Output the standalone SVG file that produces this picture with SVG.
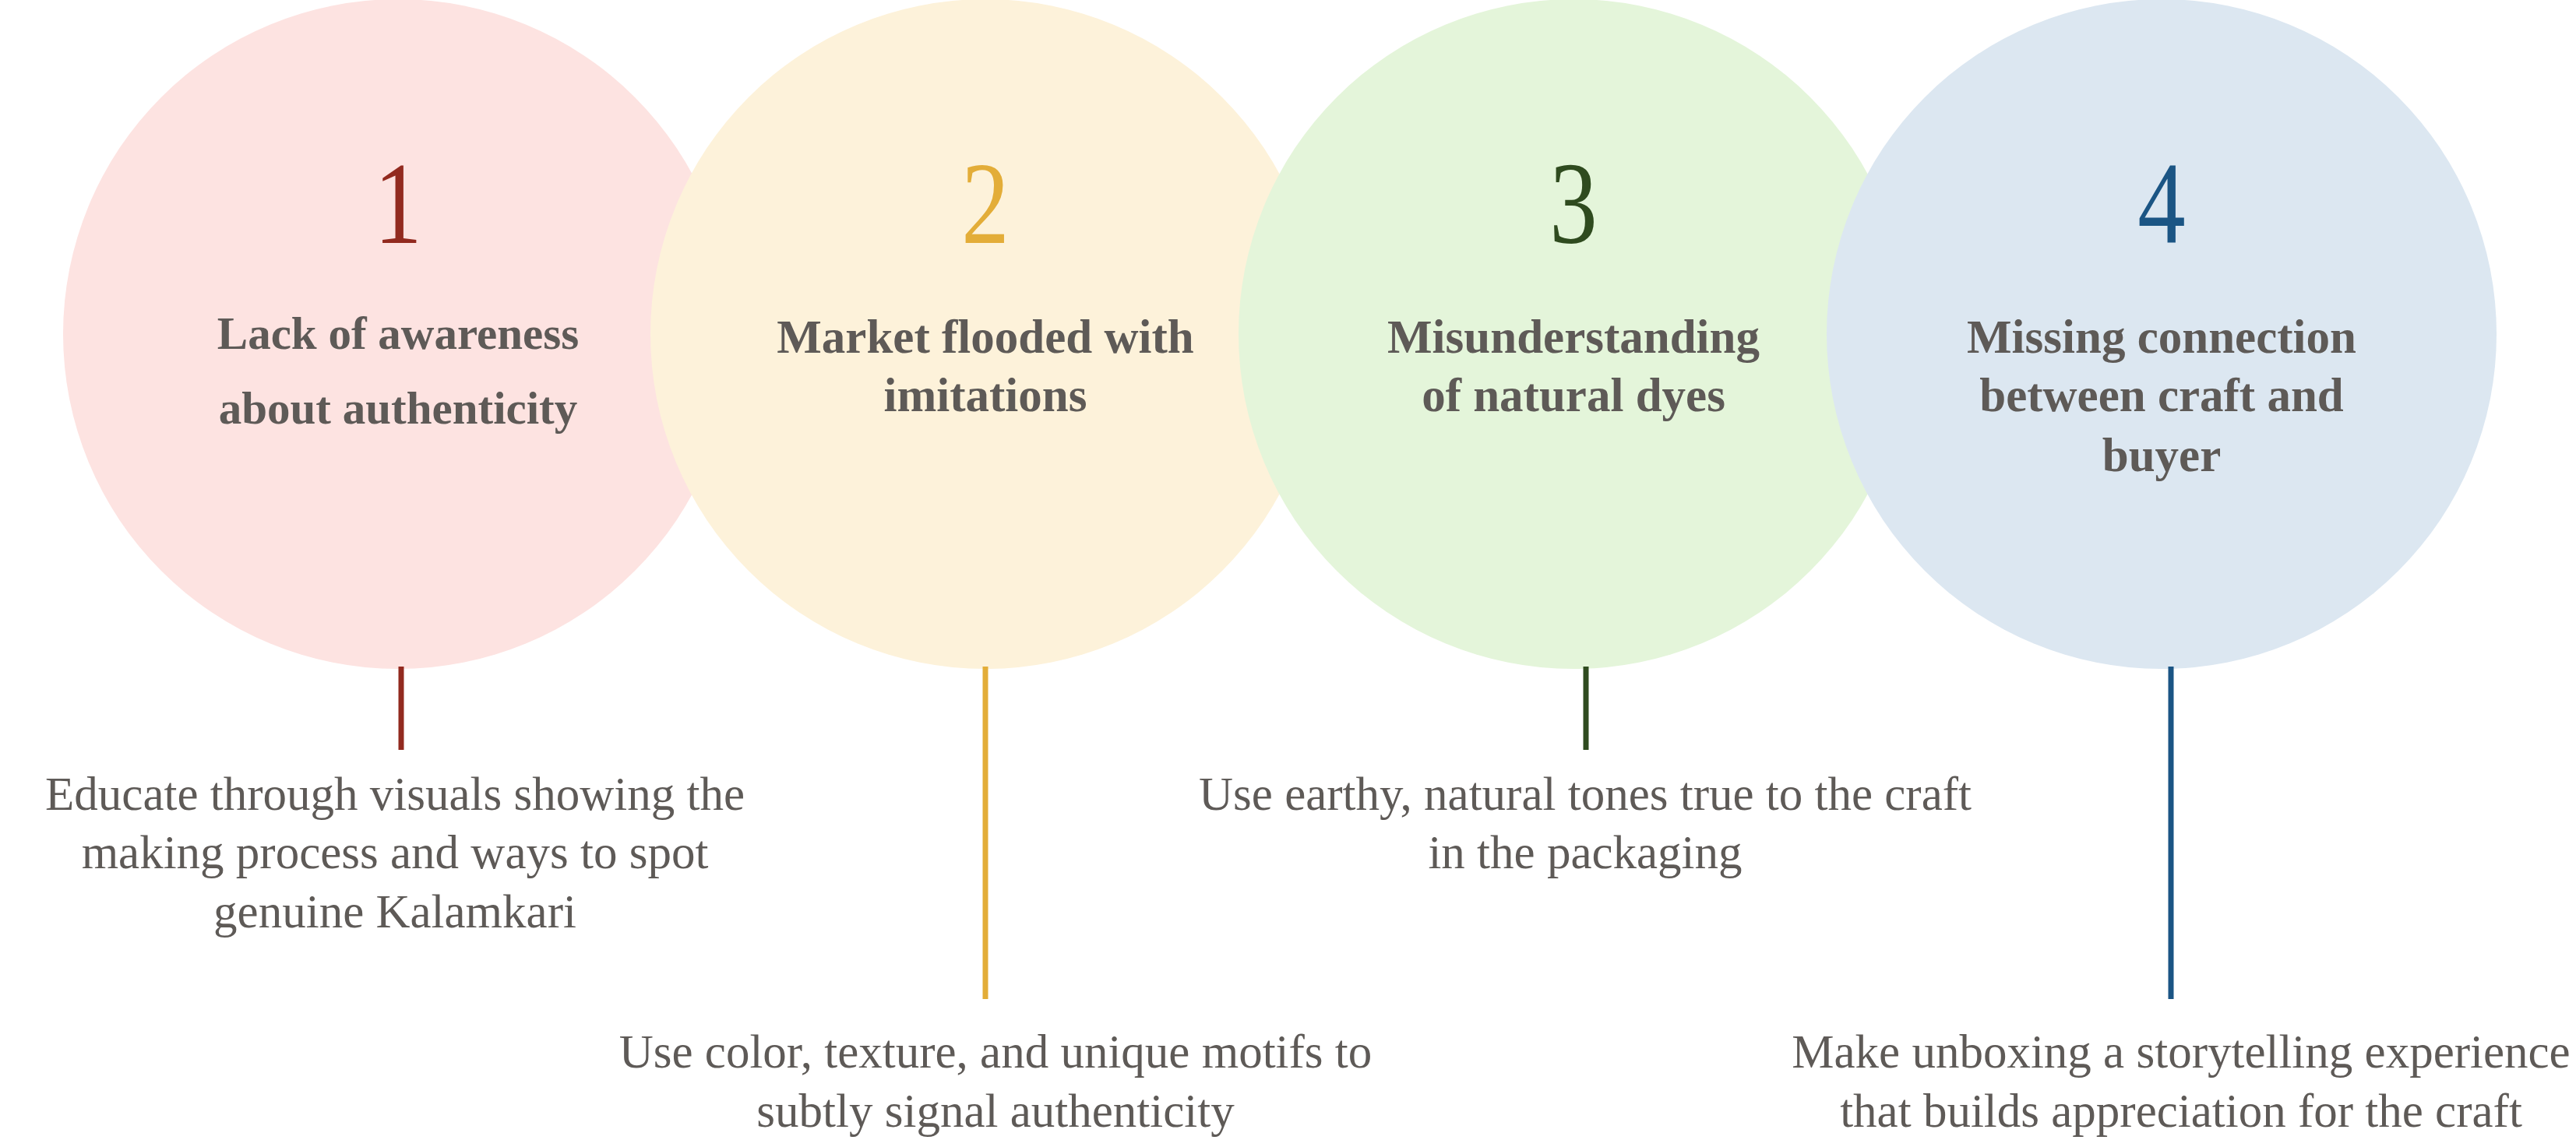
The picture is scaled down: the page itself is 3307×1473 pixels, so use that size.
<svg xmlns="http://www.w3.org/2000/svg" width="3307" height="1473" viewBox="0 0 3307 1473">
<style>
.num{font-family:"Liberation Serif","Times New Roman",serif;font-size:150px;text-anchor:middle}
.title{font-family:"Liberation Serif","Times New Roman",serif;font-size:61px;font-weight:bold;fill:#5E5A57;text-anchor:middle}
.desc{font-family:"Liberation Serif","Times New Roman",serif;font-size:61px;fill:#5E5A57;text-anchor:middle}
.conn{stroke-width:7;fill:none}
</style>
<rect width="3307" height="1473" fill="#FFFFFF"/>
<g id="node1">
<circle cx="511" cy="429" r="430" fill="#FDE3E1"/>
<text class="num" transform="translate(511,312) scale(0.82,1)" x="0" y="0" fill="#922A1F">1</text>
<text class="title" x="511" y="448" style="font-size:59px">Lack of awareness</text>
<text class="title" x="511" y="544" style="font-size:59px">about authenticity</text>
</g>
<g id="node2">
<circle cx="1265" cy="429" r="430" fill="#FDF2DA"/>
<text class="num" transform="translate(1265,312) scale(0.82,1)" x="0" y="0" fill="#E3AD38">2</text>
<text class="title" x="1265" y="453">Market flooded with</text>
<text class="title" x="1265" y="528">imitations</text>
</g>
<g id="node3">
<circle cx="2020" cy="429" r="430" fill="#E4F5DA"/>
<text class="num" transform="translate(2020,312) scale(0.82,1)" x="0" y="0" fill="#2F4B1F">3</text>
<text class="title" x="2020" y="453">Misunderstanding</text>
<text class="title" x="2020" y="528">of natural dyes</text>
</g>
<g id="node4">
<circle cx="2775" cy="429" r="430" fill="#DCE7F1"/>
<text class="num" transform="translate(2775,312) scale(0.82,1)" x="0" y="0" fill="#1B5584">4</text>
<text class="title" x="2775" y="453">Missing connection</text>
<text class="title" x="2775" y="528">between craft and</text>
<text class="title" x="2775" y="605">buyer</text>
</g>
<g id="connectors">
<line class="conn" x1="515" y1="856" x2="515" y2="963" stroke="#922A1F"/>
<line class="conn" x1="1265" y1="856" x2="1265" y2="1283" stroke="#E3AD38"/>
<line class="conn" x1="2036" y1="856" x2="2036" y2="963" stroke="#2F4B1F"/>
<line class="conn" x1="2787" y1="856" x2="2787" y2="1283" stroke="#1B5584"/>
</g>
<g id="desc1">
<text class="desc" x="507" y="1040">Educate through visuals showing the</text>
<text class="desc" x="507" y="1115">making process and ways to spot</text>
<text class="desc" x="507" y="1191">genuine Kalamkari</text>
</g>
<g id="desc2">
<text class="desc" x="1278" y="1371">Use color, texture, and unique motifs to</text>
<text class="desc" x="1278" y="1447">subtly signal authenticity</text>
</g>
<g id="desc3">
<text class="desc" x="2035" y="1040">Use earthy, natural tones true to the craft</text>
<text class="desc" x="2035" y="1115">in the packaging</text>
</g>
<g id="desc4">
<text class="desc" x="2800" y="1371">Make unboxing a storytelling experience</text>
<text class="desc" x="2800" y="1447">that builds appreciation for the craft</text>
</g>
</svg>
